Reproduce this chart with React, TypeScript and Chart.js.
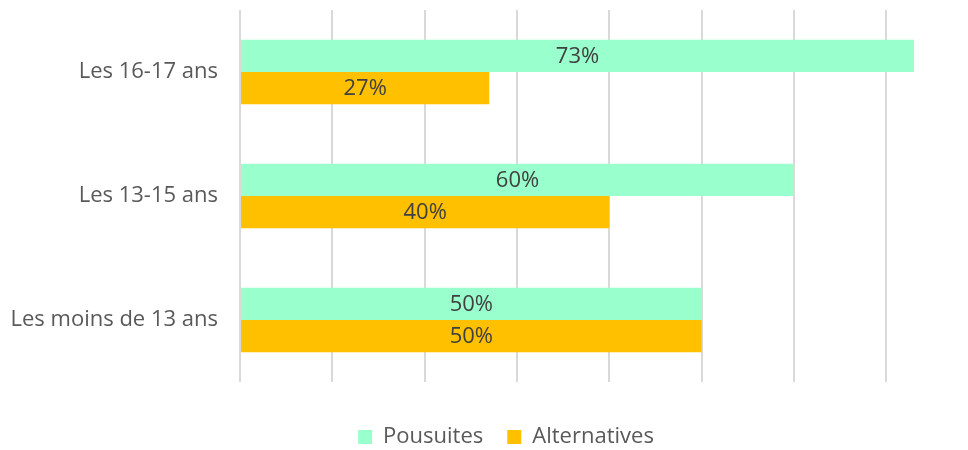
import React, { useEffect, useRef } from "react";
import { Chart, registerables } from "chart.js";

Chart.register(...registerables);

const categories = ["Les 16-17 ans", "Les 13-15 ans", "Les moins de 13 ans"];
const seriesNames = ["Pousuites", "Alternatives"];
const pousuites = [73, 60, 50];
const alternatives = [27, 40, 50];
const axisMax = 73;
const axisStep = 10;

const FONT = "'Open Sans', sans-serif";

const valueLabels = {
  id: "valueLabels",
  afterDatasetsDraw(chart: any) {
    const ctx = chart.ctx;
    ctx.save();
    ctx.font = `22px ${FONT}`;
    ctx.fillStyle = "#404040";
    ctx.textAlign = "center";
    ctx.textBaseline = "middle";
    chart.data.datasets.forEach((ds: any, di: number) => {
      const meta = chart.getDatasetMeta(di);
      meta.data.forEach((bar: any, i: number) => {
        const v = ds.data[i];
        const x = (bar.x + bar.base) / 2;
        ctx.fillText(`${v}%`, x, bar.y + 1);
      });
    });
    ctx.restore();
  },
};

const legendShift = {
  id: "legendShift",
  afterLayout(chart: any) {
    const lg = chart.legend;
    if (lg) {
      lg.left += 49;
      lg.right += 49;
    }
  },
};

export default function App() {
  const ref = useRef<HTMLCanvasElement>(null);
  useEffect(() => {
    if (!ref.current) return;
    const chart = new Chart(ref.current, {
      type: "bar",
      data: {
        labels: categories,
        datasets: [
          {
            label: seriesNames[0],
            data: pousuites,
            backgroundColor: "#99FFCC",
            borderWidth: 0,
          },
          {
            label: seriesNames[1],
            data: alternatives,
            backgroundColor: "#FFC000",
            borderWidth: 0,
          },
        ],
      },
      options: {
        indexAxis: "y",
        animation: false,
        responsive: true,
        maintainAspectRatio: false,
        layout: { padding: { top: 10, right: 54, left: 0, bottom: 0 } },
        datasets: {
          bar: { categoryPercentage: 0.52, barPercentage: 1 },
        } as any,
        scales: {
          x: {
            min: 0,
            max: axisMax,
            ticks: { display: false, stepSize: axisStep, includeBounds: false },
            grid: {
              color: (c: any) =>
                c.tick && c.tick.value % axisStep === 0 ? "#d9d9d9" : "rgba(0,0,0,0)",
              lineWidth: 2,
              drawTicks: false,
            },
            border: { display: false },
            afterFit: (s: any) => {
              s.height = 20;
              s.paddingLeft = 0;
              s.paddingRight = 0;
            },
          } as any,
          y: {
            ticks: {
              color: "#595959",
              font: { family: FONT, size: 22 },
              padding: 22,
            },
            grid: { display: false, drawTicks: false },
            border: { display: false },
            afterFit: (s: any) => {
              s.width = 240;
              s.paddingTop = 0;
              s.paddingBottom = 0;
            },
          } as any,
        },
        plugins: {
          legend: {
            position: "bottom",
            maxHeight: 48,
            labels: {
              boxWidth: 14,
              boxHeight: 14,
              padding: 24,
              color: "#595959",
              font: { family: FONT, size: 22 },
            },
          } as any,
          tooltip: { enabled: false },
        },
      },
      plugins: [valueLabels, legendShift],
    });
    return () => chart.destroy();
  }, []);
  return (
    <div style={{ position: "absolute", left: 0, top: 0, width: 968, height: 450 }}>
      <canvas ref={ref} />
    </div>
  );
}
